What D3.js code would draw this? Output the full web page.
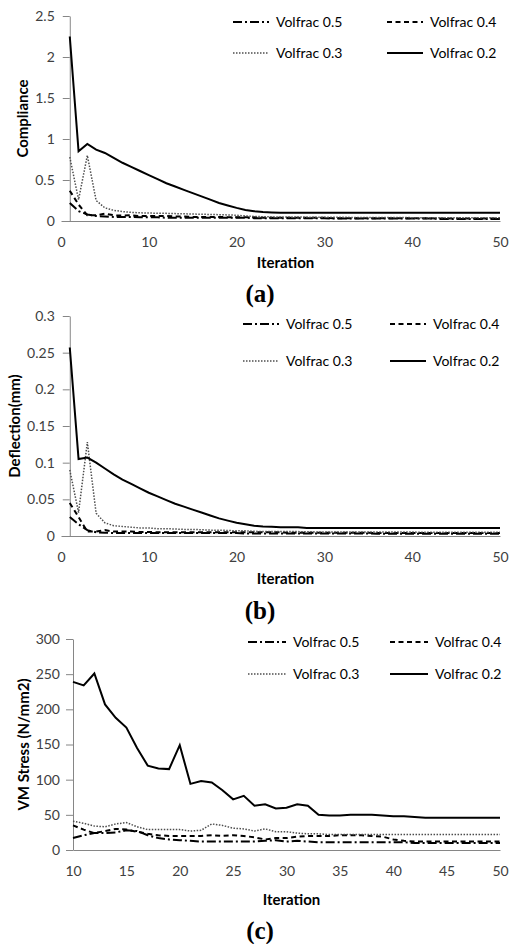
<!DOCTYPE html>
<html>
    <head>
        <title>Volfrac convergence</title>
        <meta charset="utf-8">
        <script src="https://cdn.jsdelivr.net/npm/d3@7/dist/d3.min.js"></script>
        <style>
            html, body {
                margin: 0px;
                padding: 0px;
                background-color: #fff;
            }

            svg text {
                font-family: Lato, "Open Sans", sans-serif;
                fill: #262626;
            }

            .axis path, .axis line {
                stroke: #868686;
                stroke-width: 1px;
            }

            .axis text {
                font-size: 14px;
                fill: #404040;
            }

            .axisTitle {
                font-size: 15px;
                font-weight: bold;
                fill: #000;
            }

            .caption {
                font-family: "Liberation Serif", "Times New Roman", serif !important;
                font-size: 25px;
                font-weight: bold;
                fill: #000 !important;
            }

            .legend text {
                font-size: 14px;
                fill: #000;
            }

            .series {
                fill: none;
            }
        </style>
    </head>
    <body>
        <div id="main"></div>

        <script>
            // series names (legend order)
            var volfracs = ["Volfrac 0.5", "Volfrac 0.4", "Volfrac 0.3", "Volfrac 0.2"];

            // (a) compliance, iterations 1..50
            var iterations = d3.range(1, 51);
            var compliance05 = [0.22, 0.12, 0.08, 0.06, 0.055, 0.05, 0.05, 0.05, 0.045, 0.045,
                                0.045, 0.04, 0.04, 0.04, 0.04, 0.04, 0.04, 0.04, 0.04, 0.04,
                                0.04, 0.035, 0.035, 0.035, 0.035, 0.035, 0.035, 0.035, 0.035, 0.035,
                                0.03, 0.03, 0.03, 0.03, 0.03, 0.03, 0.03, 0.03, 0.03, 0.03,
                                0.03, 0.03, 0.025, 0.025, 0.025, 0.025, 0.025, 0.025, 0.025, 0.025];
            var compliance04 = [0.37, 0.20, 0.07, 0.07, 0.09, 0.07, 0.065, 0.07, 0.06, 0.06,
                                0.06, 0.06, 0.055, 0.055, 0.05, 0.05, 0.05, 0.05, 0.045, 0.045,
                                0.045, 0.045, 0.04, 0.04, 0.04, 0.04, 0.04, 0.04, 0.04, 0.04,
                                0.035, 0.035, 0.035, 0.035, 0.035, 0.035, 0.035, 0.035, 0.035, 0.035,
                                0.035, 0.035, 0.03, 0.03, 0.03, 0.03, 0.03, 0.03, 0.03, 0.03];
            var compliance03 = [0.78, 0.26, 0.80, 0.25, 0.16, 0.13, 0.115, 0.105, 0.10, 0.097,
                                0.095, 0.093, 0.09, 0.088, 0.085, 0.082, 0.08, 0.077, 0.074, 0.07,
                                0.062, 0.056, 0.052, 0.05, 0.05, 0.048, 0.048, 0.047, 0.046, 0.045,
                                0.045, 0.045, 0.044, 0.044, 0.043, 0.043, 0.042, 0.042, 0.042, 0.041,
                                0.041, 0.041, 0.04, 0.04, 0.04, 0.04, 0.04, 0.04, 0.04, 0.04];
            var compliance02 = [2.25, 0.85, 0.94, 0.87, 0.83, 0.77, 0.71, 0.66, 0.61, 0.56,
                                0.51, 0.46, 0.42, 0.38, 0.34, 0.30, 0.26, 0.22, 0.19, 0.16,
                                0.135, 0.12, 0.11, 0.105, 0.10, 0.10, 0.10, 0.10, 0.10, 0.10,
                                0.10, 0.10, 0.10, 0.10, 0.10, 0.10, 0.10, 0.10, 0.10, 0.10,
                                0.10, 0.10, 0.10, 0.10, 0.10, 0.10, 0.10, 0.10, 0.10, 0.10];

            // (b) deflection (mm), iterations 1..50
            var deflection05 = [0.026, 0.016, 0.008, 0.005, 0.0045, 0.004, 0.004, 0.004, 0.004, 0.004,
                                0.004, 0.004, 0.004, 0.004, 0.004, 0.004, 0.004, 0.004, 0.004, 0.004,
                                0.0035, 0.0035, 0.0035, 0.0035, 0.0035, 0.0035, 0.0035, 0.0035, 0.0035, 0.0035,
                                0.0035, 0.0035, 0.0035, 0.0035, 0.0035, 0.003, 0.003, 0.003, 0.003, 0.003,
                                0.003, 0.003, 0.003, 0.003, 0.003, 0.003, 0.003, 0.003, 0.003, 0.003];
            var deflection04 = [0.045, 0.026, 0.006, 0.006, 0.008, 0.006, 0.006, 0.006, 0.0055, 0.0055,
                                0.005, 0.005, 0.005, 0.005, 0.005, 0.005, 0.005, 0.005, 0.005, 0.005,
                                0.005, 0.005, 0.005, 0.005, 0.005, 0.0045, 0.0045, 0.0045, 0.0045, 0.0045,
                                0.0045, 0.0045, 0.0045, 0.0045, 0.0045, 0.004, 0.004, 0.004, 0.004, 0.004,
                                0.004, 0.004, 0.004, 0.004, 0.004, 0.004, 0.004, 0.004, 0.004, 0.004];
            var deflection03 = [0.090, 0.032, 0.128, 0.031, 0.018, 0.014, 0.013, 0.012, 0.011, 0.011,
                                0.010, 0.010, 0.0095, 0.009, 0.009, 0.0085, 0.008, 0.008, 0.0075, 0.007,
                                0.007, 0.0065, 0.006, 0.006, 0.006, 0.006, 0.006, 0.0058, 0.0056, 0.0055,
                                0.0055, 0.0055, 0.0055, 0.0055, 0.0055, 0.0055, 0.0055, 0.0055, 0.0055, 0.0055,
                                0.005, 0.005, 0.005, 0.005, 0.005, 0.005, 0.005, 0.005, 0.005, 0.005];
            var deflection02 = [0.257, 0.105, 0.107, 0.100, 0.092, 0.084, 0.077, 0.071, 0.065, 0.059,
                                0.054, 0.049, 0.044, 0.040, 0.036, 0.032, 0.028, 0.024, 0.021, 0.018,
                                0.016, 0.014, 0.013, 0.0125, 0.012, 0.012, 0.012, 0.011, 0.011, 0.011,
                                0.011, 0.011, 0.011, 0.011, 0.011, 0.011, 0.011, 0.011, 0.011, 0.011,
                                0.011, 0.011, 0.011, 0.011, 0.011, 0.011, 0.011, 0.011, 0.011, 0.011];

            // (c) VM stress (N/mm2), iterations 10..50
            var stressIterations = d3.range(10, 51);
            var stress05 = [17, 21, 24, 24, 25, 28, 27, 21, 17, 15,
                            14, 13, 12, 12, 12, 12, 12, 12, 13, 14,
                            12, 13, 12, 11, 11, 11, 11, 11, 11, 11,
                            11, 11, 10, 10, 10, 10, 10, 10, 10, 10, 10];
            var stress04 = [35, 29, 24, 27, 30, 29, 26, 23, 21, 20,
                            20, 20, 20, 21, 20, 21, 20, 18, 15, 17,
                            17, 19, 20, 20, 20, 21, 21, 21, 20, 19,
                            15, 13, 12, 12, 12, 12, 12, 12, 12, 12, 12];
            var stress03 = [41, 38, 34, 33, 37, 39, 33, 29, 29, 29,
                            29, 27, 28, 37, 35, 31, 30, 27, 30, 26,
                            26, 24, 23, 23, 22, 22, 22, 22, 22, 22,
                            22, 22, 22, 22, 22, 22, 22, 22, 22, 22, 22];
            var stress02 = [239, 234, 251, 207, 188, 174, 145, 120, 116, 115,
                            149, 94, 98, 96, 85, 72, 77, 63, 65, 59,
                            60, 65, 63, 50, 49, 49, 50, 50, 50, 49,
                            48, 48, 47, 46, 46, 46, 46, 46, 46, 46, 46];

            // tick labels
            var xTicksAB = [0, 10, 20, 30, 40, 50];
            var xTicksC = [10, 15, 20, 25, 30, 35, 40, 45, 50];
            var yTicksA = [0, 0.5, 1, 1.5, 2, 2.5];
            var yTicksB = [0, 0.05, 0.1, 0.15, 0.2, 0.25, 0.3];
            var yTicksC = [0, 50, 100, 150, 200, 250, 300];

            var styles = {
                "Volfrac 0.5": { color: "#000", width: 2, dash: "9,3,2,3" },
                "Volfrac 0.4": { color: "#000", width: 2, dash: "5,3.5" },
                "Volfrac 0.3": { color: "#4d4d4d", width: 1.5, dash: "1.5,1.5" },
                "Volfrac 0.2": { color: "#000", width: 2, dash: null }
            };

            function drawPanel(svg, p) {
                var x = d3.scaleLinear().domain(p.xDomain).range([p.left, p.right]);
                var y = d3.scaleLinear().domain(p.yDomain).range([p.bottom, p.top]);
                var g = svg.append("g");

                g.append("g")
                    .attr("class", "axis")
                    .attr("transform", "translate(0," + p.bottom + ")")
                    .call(d3.axisBottom(x).tickValues(p.xTicks).tickSize(0).tickSizeOuter(0).tickPadding(16));

                g.append("g")
                    .attr("class", "axis")
                    .attr("transform", "translate(" + x(p.yCross) + ",0)")
                    .call(d3.axisLeft(y).tickValues(p.yTicks).tickSize(7).tickSizeOuter(0).tickPadding(p.yPad)
                        .tickFormat(function(d) { return String(+d.toFixed(2)); }));

                var line = d3.line()
                    .x(function(d) { return x(d[0]); })
                    .y(function(d) { return y(d[1]); });

                p.series.forEach(function(values, i) {
                    var st = styles[volfracs[i]];
                    g.append("path")
                        .datum(d3.zip(p.xValues, values))
                        .attr("class", "series")
                        .attr("d", line)
                        .attr("stroke", st.color)
                        .attr("stroke-width", st.width)
                        .attr("stroke-dasharray", st.dash);
                });

                g.append("text")
                    .attr("class", "axisTitle")
                    .attr("x", (p.left + p.right) / 2 + 5)
                    .attr("y", p.bottom + p.xTitleOffset)
                    .style("text-anchor", "middle")
                    .text("Iteration");

                g.append("text")
                    .attr("class", "axisTitle")
                    .attr("transform", "translate(" + p.yTitleX + "," + ((p.top + p.bottom) / 2) + ") rotate(-90)")
                    .attr("dy", "0.35em")
                    .style("text-anchor", "middle")
                    .text(p.yTitle);

                g.append("text")
                    .attr("class", "caption")
                    .attr("x", 260)
                    .attr("y", p.captionY)
                    .attr("dy", "0.35em")
                    .style("text-anchor", "middle")
                    .text(p.caption);

                var leg = g.append("g").attr("class", "legend");
                volfracs.forEach(function(name, i) {
                    var st = styles[name];
                    var sx = i % 2 === 0 ? p.legX1 : p.legX2;
                    var sy = i < 2 ? p.legY1 : p.legY2;
                    leg.append("line")
                        .attr("x1", sx).attr("x2", sx + p.legLen)
                        .attr("y1", sy).attr("y2", sy)
                        .attr("stroke", st.color)
                        .attr("stroke-width", st.width)
                        .attr("stroke-dasharray", st.dash);
                    leg.append("text")
                        .attr("x", sx + p.legLen + 7)
                        .attr("y", sy)
                        .attr("dy", "0.35em")
                        .text(name);
                });
            }

            var width = 510;
            var height = 944;

            var svg = d3.select("#main")
                .append("svg")
                .attr("width", width)
                .attr("height", height);

            drawPanel(svg, {
                xDomain: [0, 50], yDomain: [0, 2.5], left: 61, right: 500, top: 16, bottom: 221,
                yCross: 1, xTicks: xTicksAB, yTicks: yTicksA, yPad: 8,
                xValues: iterations, series: [compliance05, compliance04, compliance03, compliance02],
                yTitle: "Compliance", yTitleX: 23, xTitleOffset: 47, caption: "(a)", captionY: 293,
                legX1: 233, legX2: 387, legY1: 22, legY2: 53, legLen: 36
            });

            drawPanel(svg, {
                xDomain: [0, 50], yDomain: [0, 0.3], left: 61, right: 500, top: 316, bottom: 536,
                yCross: 1, xTicks: xTicksAB, yTicks: yTicksB, yPad: 8,
                xValues: iterations, series: [deflection05, deflection04, deflection03, deflection02],
                yTitle: "Deflection(mm)", yTitleX: 15, xTitleOffset: 48, caption: "(b)", captionY: 610,
                legX1: 243, legX2: 390, legY1: 324, legY2: 361, legLen: 36
            });

            drawPanel(svg, {
                xDomain: [10, 50], yDomain: [0, 300], left: 73, right: 500, top: 639, bottom: 850,
                yCross: 10, xTicks: xTicksC, yTicks: yTicksC, yPad: 6,
                xValues: stressIterations, series: [stress05, stress04, stress03, stress02],
                yTitle: "VM Stress (N/mm2)", yTitleX: 24, xTitleOffset: 55, caption: "(c)", captionY: 930,
                legX1: 248, legX2: 390, legY1: 642, legY2: 674, legLen: 38
            });
        </script>
    </body>
</html>
